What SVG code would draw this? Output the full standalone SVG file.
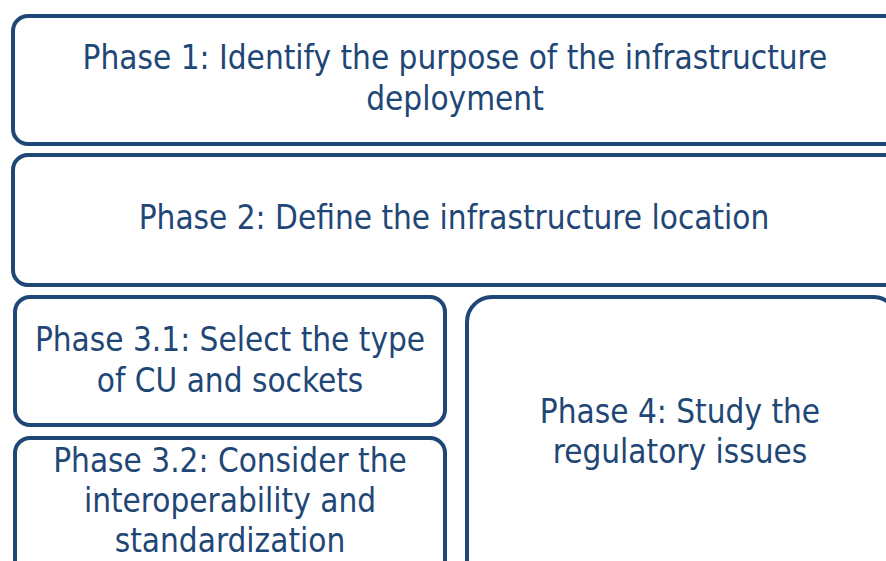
<svg xmlns="http://www.w3.org/2000/svg" width="886" height="561" viewBox="0 0 886 561">
  <style>
    .box { fill: #ffffff; stroke: #1f4776; stroke-width: 4; }
    .label { font-family: "DejaVu Sans Condensed", "Liberation Sans", sans-serif; font-size: 33px; fill: #1f4776; text-anchor: middle; }
  </style>
  <rect width="886" height="561" fill="#ffffff"/>
  <g id="phase1">
    <rect class="box" x="13" y="16" width="900" height="128" rx="15" ry="15"/>
    <text class="label" x="455" y="69">Phase 1: Identify the purpose of the infrastructure</text>
    <text class="label" x="455" y="110">deployment</text>
  </g>
  <g id="phase2">
    <rect class="box" x="13" y="155" width="900" height="130" rx="15" ry="15"/>
    <text class="label" x="454" y="229">Phase 2: Define the infrastructure location</text>
  </g>
  <g id="phase3-1">
    <rect class="box" x="15" y="297" width="430" height="128" rx="15" ry="15"/>
    <text class="label" x="230" y="351">Phase 3.1: Select the type</text>
    <text class="label" x="230" y="392">of CU and sockets</text>
  </g>
  <g id="phase3-2">
    <rect class="box" x="15" y="438" width="430" height="160" rx="15" ry="15"/>
    <text class="label" x="230" y="472">Phase 3.2: Consider the</text>
    <text class="label" x="230" y="512">interoperability and</text>
    <text class="label" x="230" y="552">standardization</text>
  </g>
  <g id="phase4">
    <rect class="box" x="467" y="297" width="431" height="300" rx="25" ry="25"/>
    <text class="label" x="680" y="423">Phase 4: Study the</text>
    <text class="label" x="680" y="463">regulatory issues</text>
  </g>
  <g id="connectors"/>
</svg>
